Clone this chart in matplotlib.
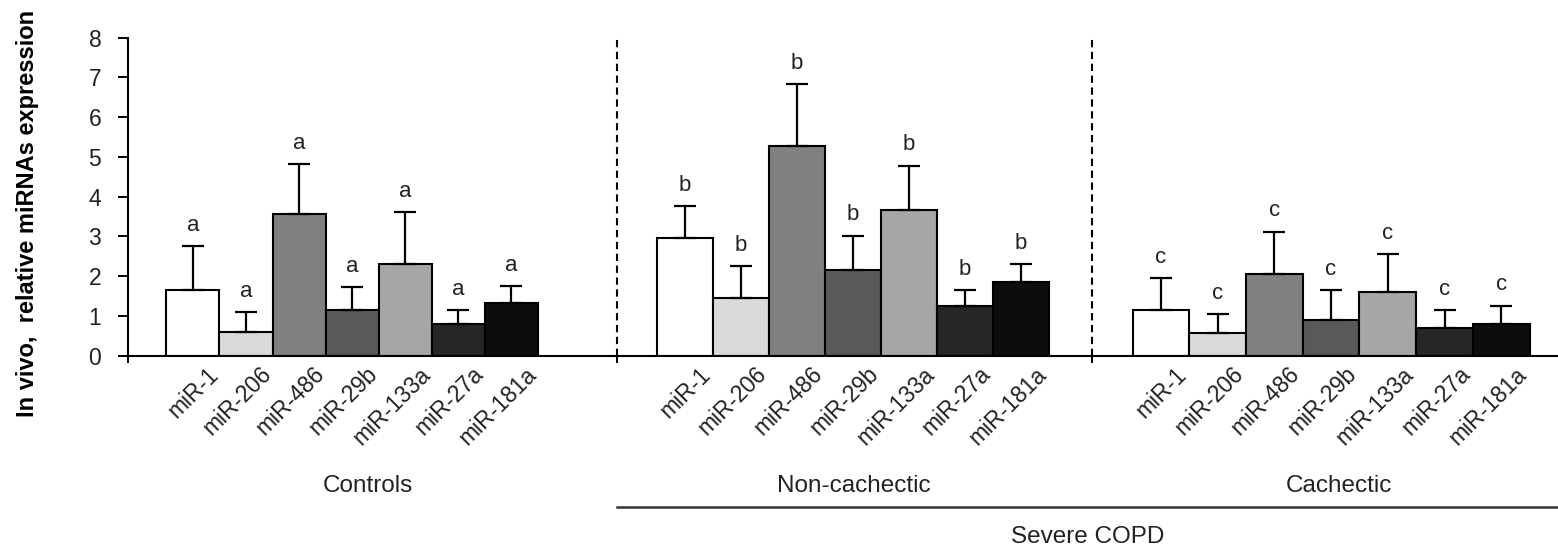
import numpy as np
import matplotlib
matplotlib.use('Agg')
import matplotlib.pyplot as plt
from matplotlib.transforms import blended_transform_factory

plt.rcParams['font.family'] = ['Liberation Sans', 'DejaVu Sans']

# ── DATA ──────────────────────────────────────────────────────
MIRNAS = ['miR-1', 'miR-206', 'miR-486', 'miR-29b', 'miR-133a', 'miR-27a', 'miR-181a']
GROUPS = ['Controls', 'Non-cachectic', 'Cachectic']
LETTERS = ['a', 'b', 'c']

CONTROLS_MEAN = [1.65, 0.60, 3.56, 1.15, 2.31, 0.81, 1.32]
CONTROLS_ERR  = [1.11, 0.50, 1.26, 0.57, 1.31, 0.34, 0.43]
NONCACH_MEAN  = [2.96, 1.46, 5.28, 2.15, 3.67, 1.25, 1.85]
NONCACH_ERR   = [0.81, 0.80, 1.56, 0.87, 1.11, 0.40, 0.46]
CACH_MEAN     = [1.15, 0.56, 2.05, 0.90, 1.59, 0.70, 0.81]
CACH_ERR      = [0.81, 0.49, 1.07, 0.75, 0.97, 0.45, 0.45]

BAR_COLORS = ['#ffffff', '#d9d9d9', '#808080', '#595959',
              '#a6a6a6', '#262626', '#0d0d0d']

MEANS = [CONTROLS_MEAN, NONCACH_MEAN, CACH_MEAN]
ERRS  = [CONTROLS_ERR, NONCACH_ERR, CACH_ERR]

# ── LAYOUT ────────────────────────────────────────────────────
GROUP_X   = [0.0, 1.024, 2.002]      # group centres (category units)
BAR_W     = [0.1084, 0.1145, 0.116]  # bar width per group
LABEL_X   = [0.033, 1.027, 2.018]    # group label centres
DIVIDERS  = [0.541, 1.514]
XLIM      = (-0.4587, 2.464)
COPD_X    = 1.505

W, H = 1558, 548
fig = plt.figure(figsize=(W / 100, H / 100), dpi=100)
ax_h_px = 318.0
ax = fig.add_axes([127.7 / W, 192.3 / H, (1557 - 127.7) / W, ax_h_px / H])

TEXT_C = '#222222'

for g in range(len(GROUPS)):
    w = BAR_W[g]
    xs = GROUP_X[g] + (np.arange(len(MIRNAS)) - (len(MIRNAS) - 1) / 2) * w
    ax.bar(xs, MEANS[g], width=w, color=BAR_COLORS, edgecolor='black',
           linewidth=1.5, zorder=2)
    ax.errorbar(xs, MEANS[g], yerr=[np.zeros(len(xs)), ERRS[g]], fmt='none',
                ecolor='black', elinewidth=1.6, capsize=7.8, capthick=1.6,
                zorder=3)
    for x, m, e, name in zip(xs, MEANS[g], ERRS[g], MIRNAS):
        ax.annotate(LETTERS[g], xy=(x, m + e), xytext=(0, 11),
                    textcoords='offset points', ha='center', va='baseline',
                    fontsize=16, color=TEXT_C)
        ax.annotate(name, xy=(x, 0), xytext=(10, -5),
                    textcoords='offset points', rotation=45,
                    rotation_mode='anchor', ha='right', va='top',
                    fontsize=16.5, color=TEXT_C, annotation_clip=False)
    ax.annotate(GROUPS[g], xy=(LABEL_X[g], 0), xytext=(0, -93.5),
                textcoords='offset points', ha='center', va='center',
                fontsize=17.5, color=TEXT_C, annotation_clip=False)

# dashed separators between groups
ax.vlines(DIVIDERS, 0, 8.07, colors='black', linestyles=(0, (3.5, 2.2)),
          linewidth=1.5, zorder=1)

# "Severe COPD" bracket line and label
trans = blended_transform_factory(ax.transData, ax.transAxes)
ax.plot([DIVIDERS[0], XLIM[1]], [-151 / ax_h_px] * 2, transform=trans,
        clip_on=False, color='#333333', linewidth=1.8)
ax.annotate('Severe COPD', xy=(COPD_X, 0), xytext=(0, -130.5),
            textcoords='offset points', ha='center', va='center',
            fontsize=17.5, color=TEXT_C, annotation_clip=False)

ax.set_xlim(*XLIM)
ax.set_ylim(0, 8)
ax.set_yticks(range(0, 9))
ax.set_xticks([XLIM[0]] + DIVIDERS)
ax.set_xticklabels([])
ax.tick_params(axis='y', direction='out', length=7, width=1.4,
               labelsize=16.5, pad=12, labelcolor=TEXT_C)
ax.tick_params(axis='x', direction='out', length=5, width=1.4)
for side in ['top', 'right']:
    ax.spines[side].set_visible(False)
for side in ['left', 'bottom']:
    ax.spines[side].set_linewidth(1.5)

fig.text(28 / W, 1 - 213 / H, 'In vivo,  relative miRNAs expression',
         rotation=90, ha='center', va='center', fontsize=17,
         fontweight='bold', color='black')

fig.savefig('out.png', dpi=100)
